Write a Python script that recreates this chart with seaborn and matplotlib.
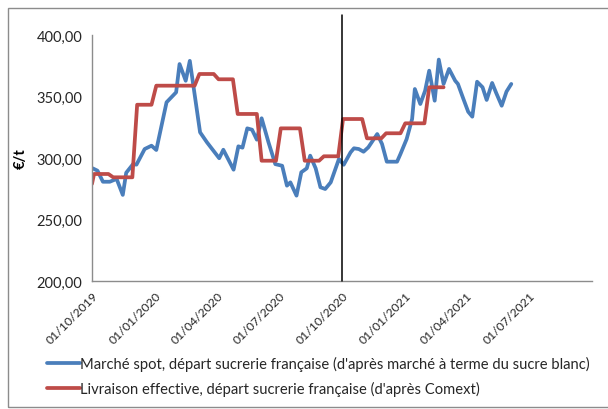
import pandas as pd
import numpy as np
import seaborn as sns
import matplotlib.pyplot as plt
import matplotlib.dates as mdates
from matplotlib.patches import Rectangle

# spot market price, depart French sugar factory (weekly)
spot_dates = [
    "2019-10-02", "2019-10-09", "2019-10-17", "2019-10-27", "2019-11-06", "2019-11-15",
    "2019-11-20", "2019-11-30", "2019-12-05", "2019-12-17", "2019-12-27", "2020-01-03",
    "2020-01-18", "2020-02-01", "2020-02-06", "2020-02-15", "2020-02-21", "2020-03-07",
    "2020-03-17", "2020-04-04", "2020-04-10", "2020-04-25", "2020-05-02", "2020-05-08",
    "2020-05-15", "2020-05-22", "2020-05-29", "2020-06-05", "2020-06-15", "2020-06-25",
    "2020-07-05", "2020-07-12", "2020-07-17", "2020-07-26", "2020-08-02", "2020-08-10",
    "2020-08-15", "2020-08-23", "2020-08-30", "2020-09-06", "2020-09-14", "2020-09-26",
    "2020-10-03", "2020-10-13", "2020-10-18", "2020-10-25", "2020-11-01", "2020-11-08",
    "2020-11-21", "2020-11-28", "2020-12-05", "2020-12-20", "2020-12-25", "2021-01-03",
    "2021-01-11", "2021-01-15", "2021-01-23", "2021-01-30", "2021-02-05", "2021-02-13",
    "2021-02-19", "2021-02-26", "2021-03-06", "2021-03-15", "2021-03-19", "2021-03-27",
    "2021-04-03", "2021-04-09", "2021-04-16", "2021-04-24", "2021-04-30", "2021-05-08",
    "2021-05-14", "2021-05-22", "2021-05-29", "2021-06-05",
]
spot_values = [
    291.6, 289.7, 280.7, 280.7, 283.0, 270.0,
    288.0, 295.0, 294.6, 307.3, 310.0, 306.5,
    345.3, 353.4, 376.4, 362.8, 379.0, 320.9,
    312.8, 299.8, 306.7, 290.5, 309.5, 308.4,
    324.1, 323.0, 314.9, 332.3, 312.8, 295.0,
    293.7, 277.5, 280.2, 269.4, 288.4, 291.6,
    301.9, 291.6, 276.2, 274.8, 280.2, 299.2,
    294.5, 304.6, 307.9, 307.3, 305.1, 308.7,
    319.5, 311.4, 297.0, 297.0, 303.3, 315.4,
    331.7, 356.1, 343.9, 354.7, 371.0, 346.6,
    380.0, 360.2, 372.4, 362.8, 360.2, 348.0,
    337.6, 333.6, 362.0, 357.5, 347.2, 361.0,
    352.8, 342.5, 354.0, 360.2,
]

# effective delivery price (Comext), monthly values
deliv_months = [
    "2019-10", "2019-11", "2019-12", "2020-01", "2020-02", "2020-03", "2020-04",
    "2020-05", "2020-06", "2020-07", "2020-08", "2020-09", "2020-10", "2020-11",
    "2020-12", "2021-01", "2021-02",
]
deliv_values = [
    287.0, 284.3, 343.3, 358.8, 358.8, 368.3, 364.0,
    335.8, 297.8, 324.1, 297.8, 301.4, 331.7, 316.0,
    320.1, 328.2, 357.5,
]
deliv_first_date = "2019-10-01"
deliv_first_value = 279.0

tick_dates = ["2019-10-01", "2020-01-01", "2020-04-01", "2020-07-01", "2020-10-01",
              "2021-01-01", "2021-04-01", "2021-07-01", "2021-10-01"]
tick_labels = ["01/10/2019", "01/01/2020", "01/04/2020", "01/07/2020", "01/10/2020",
               "01/01/2021", "01/04/2021", "01/07/2021", ""]
y_ticks = [200, 250, 300, 350, 400]
y_labels = ["200,00", "250,00", "300,00", "350,00", "400,00"]

name_spot = "Marché spot, départ sucrerie française (d'après marché à terme du sucre blanc)"
name_deliv = "Livraison effective, départ sucrerie française (d'après Comext)"

# monthly delivery values repeated on each weekly (Friday) point of the month
weeks = pd.date_range("2019-10-04", "2021-02-26", freq="W-FRI")
month_map = dict(zip(deliv_months, deliv_values))
deliv_df = pd.DataFrame({"date": weeks, "value": [month_map[d.strftime("%Y-%m")] for d in weeks]})
deliv_df = pd.concat([pd.DataFrame({"date": [pd.Timestamp(deliv_first_date)], "value": [deliv_first_value]}),
                      deliv_df], ignore_index=True)
deliv_df["serie"] = name_deliv

spot_df = pd.DataFrame({"date": pd.to_datetime(spot_dates), "value": spot_values, "serie": name_spot})
df = pd.concat([spot_df, deliv_df], ignore_index=True)

sns.set_style("white")
plt.rcParams["font.family"] = ["Lato", "DejaVu Sans"]

fig = plt.figure(figsize=(6.08, 4.10), dpi=100)
ax = fig.add_axes([92 / 608, 1 - 282 / 410, 500 / 608, 246 / 410])

sns.lineplot(data=df, x="date", y="value", hue="serie",
             palette={name_spot: "#4a7ebb", name_deliv: "#be4b48"},
             linewidth=2.7, ax=ax, legend=False, estimator=None, sort=True)

ax.axvline(pd.Timestamp("2020-10-01"), ymin=0, ymax=1.081, color="black", lw=1.1, clip_on=False, zorder=5)

ax.set_xlim(pd.Timestamp("2019-10-01"), pd.Timestamp("2021-10-01"))
ax.set_ylim(200, 400)
ax.set_xticks(pd.to_datetime(tick_dates))
ax.set_xticklabels(tick_labels, rotation=45, ha="right", rotation_mode="anchor", fontsize=8.8, color="#262626")
ax.xaxis.set_minor_locator(mdates.MonthLocator())
ax.set_yticks(y_ticks)
ax.set_yticklabels(y_labels, fontsize=10.5, color="#262626")
ax.set_xlabel("")
ax.set_ylabel("€/t", fontsize=10.5, fontweight="bold", color="black", labelpad=6)

for s in ["top", "right"]:
    ax.spines[s].set_visible(False)
for s in ["left", "bottom"]:
    ax.spines[s].set_color("#8c8c8c")
    ax.spines[s].set_linewidth(1)
ax.tick_params(axis="both", which="major", direction="inout", length=7, color="#8c8c8c", width=1)
ax.tick_params(axis="x", which="minor", direction="inout", length=5, color="#8c8c8c", width=1)
ax.tick_params(axis="x", which="major", pad=3)

handles = [plt.Line2D([], [], color="#4a7ebb", lw=2.7), plt.Line2D([], [], color="#be4b48", lw=2.7)]
fig.legend(handles, [name_spot, name_deliv], loc="upper left", bbox_to_anchor=(34 / 608, 1 - 344 / 410),
           frameon=False, fontsize=10.6, handlelength=2.2, handletextpad=0.05, labelspacing=0.66)

fig.patches.append(Rectangle((8 / 608, 2 / 410), 1.0, 1 - 11 / 410, transform=fig.transFigure,
                             fill=False, edgecolor="#8c8c8c", lw=1))

fig.savefig("out.png", dpi=100)
